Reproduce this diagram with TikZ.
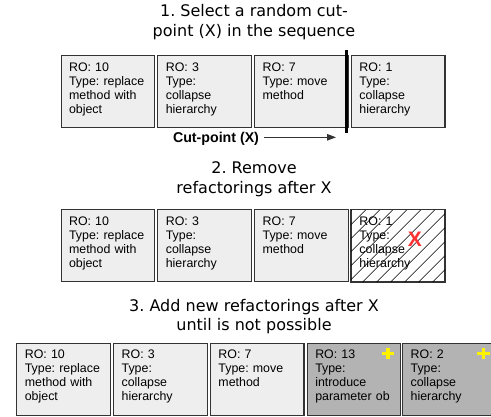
\documentclass[tikz,border=0pt]{standalone}
\usepackage{fontspec}
\usetikzlibrary{arrows.meta,positioning,patterns.meta}
\newfontfamily\boxfont{Liberation Sans}
\newfontfamily\ttlfont{DejaVu Sans}
\definecolor{boxgray}{HTML}{EEEEEE}
\definecolor{addgray}{HTML}{B3B3B3}
\definecolor{edgegray}{HTML}{333333}
\definecolor{crossred}{HTML}{FF3333}
\frenchspacing
\begin{document}
\begin{tikzpicture}[x=1pt,y=-1pt,>=Latex,node distance=2.2pt,
  seqbox/.style={draw=edgegray,line width=1.1pt,fill=boxgray,anchor=north west,align=left,text width=77.5pt,inner xsep=8pt,inner ysep=6.7pt,text height=9pt,text depth=49.6pt,font=\boxfont\fontsize{12.4}{14}\selectfont},
  newbox/.style={seqbox,fill=addgray},
  ttl/.style={anchor=north,align=center,inner sep=0pt,font=\ttlfont\fontsize{16}{19.5}\selectfont},
  plusmark/.style={draw=yellow,line width=3.3pt}]
\useasboundingbox (0,0) rectangle (491,416);
% step 1
\node[ttl] (ttl1) at (254,4.5) {1. Select a random cut-\\point (X) in the sequence};
\node[seqbox] (sel1) at (60.5,55) {RO: 10\\Type: replace\\method with\\object};
\node[seqbox,right=of sel1] (sel2) {RO: 3\\Type:\\collapse\\hierarchy};
\node[seqbox,right=of sel2] (sel3) {RO: 7\\Type: move\\method};
\node[seqbox,right=of sel3] (sel4) {RO: 1\\Type:\\collapse\\hierarchy};
\coordinate (cuttop) at (346.5,50);
\coordinate (cutbot) at (346.5,133);
\draw[line width=3.2pt] (cuttop) -- (cutbot);
\node[font=\boxfont\bfseries\fontsize{14.2}{16}\selectfont,anchor=base,inner xsep=5pt] (cutlbl) at (216,142.3) {Cut-point (X)};
\coordinate (cutend) at (336,137.3);
\draw[-{Triangle[length=9pt,width=6.5pt]},line width=1pt,draw=edgegray,fill=black] (cutlbl.east |- cutend) -- (cutend);
% step 2
\node[ttl] (ttl2) at (254,161.6) {2. Remove\\refactorings after X};
\node[seqbox] (rem1) at (60.5,209.3) {RO: 10\\Type: replace\\method with\\object};
\node[seqbox,right=of rem1] (rem2) {RO: 3\\Type:\\collapse\\hierarchy};
\node[seqbox,right=of rem2] (rem3) {RO: 7\\Type: move\\method};
\node[seqbox,fill=white,right=of rem3] (rem4) {RO: 1\\Type:\\collapse\\hierarchy};
\fill[pattern={Lines[angle=45,distance=10.5pt,line width=0.7pt]}] (rem4.south west) rectangle (rem4.north east);
\draw[edgegray,line width=1.1pt] (rem4.south west) rectangle (rem4.north east);
\node[font=\boxfont\bfseries\fontsize{21}{21}\selectfont,text=crossred,inner sep=0pt] (cross) at (415,239) {X};
% step 3
\node[ttl] (ttl3) at (254,298.8) {3. Add new refactorings after X\\until is not possible};
\node[seqbox] (add1) at (16.3,342.7) {RO: 10\\Type: replace\\method with\\object};
\node[seqbox,right=of add1] (add2) {RO: 3\\Type:\\collapse\\hierarchy};
\node[seqbox,right=of add2] (add3) {RO: 7\\Type: move\\method};
\node[newbox,right=of add3] (add4) {RO: 13\\Type:\\introduce\\parameter ob};
\node[newbox,right=0.8pt of add4] (add5) {RO: 2\\Type:\\collapse\\hierarchy};
\coordinate[below left=11pt and 13.3pt of add4.north east] (plus4);
\coordinate[below left=11pt and 13.3pt of add5.north east] (plus5);
\draw[plusmark] ([xshift=-6.3pt]plus4) -- ([xshift=6.3pt]plus4) ([yshift=-5.5pt]plus4) -- ([yshift=5.5pt]plus4);
\draw[plusmark] ([xshift=-6.3pt]plus5) -- ([xshift=6.3pt]plus5) ([yshift=-5.5pt]plus5) -- ([yshift=5.5pt]plus5);
\end{tikzpicture}
\end{document}
